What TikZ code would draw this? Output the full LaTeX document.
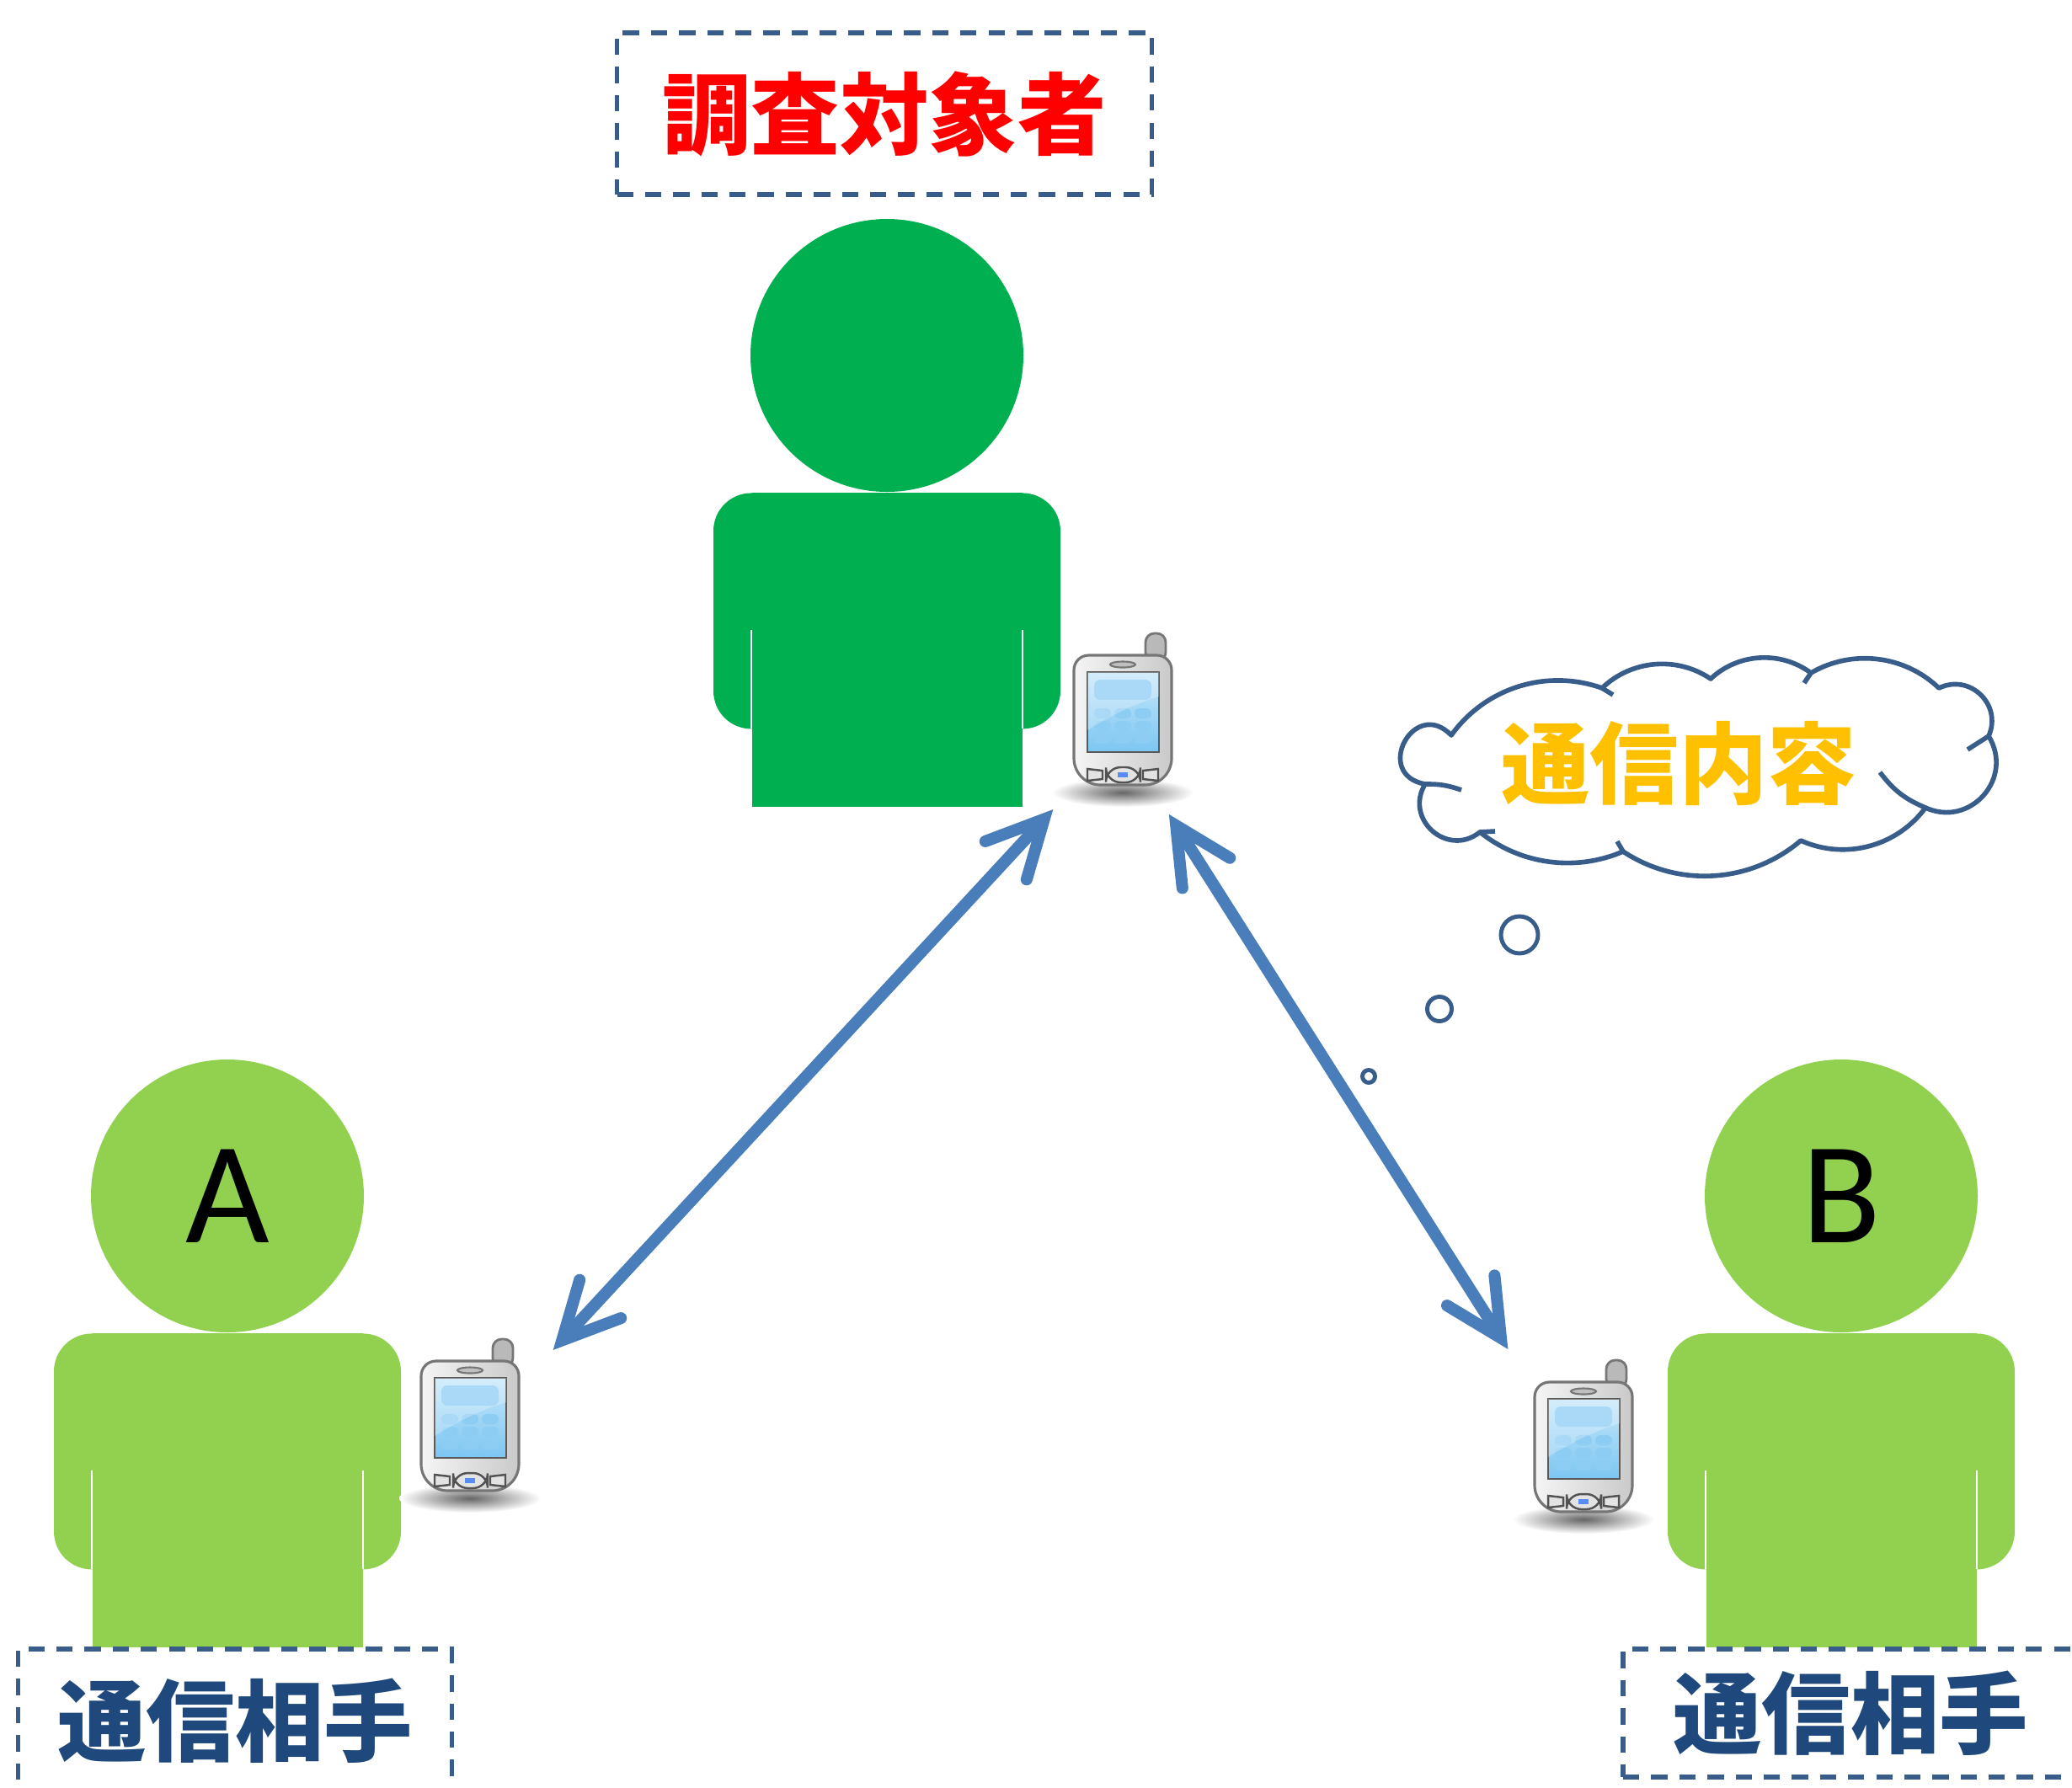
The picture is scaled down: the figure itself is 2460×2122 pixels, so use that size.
\documentclass[tikz,border=0pt]{standalone}
\usepackage{fontspec}
\newfontfamily\jpfont{Noto Sans CJK JP}
\newfontfamily\letterfont{Carlito}
\usetikzlibrary{positioning, arrows.meta, calc}
\definecolor{boss}{HTML}{00B050}
\definecolor{friend}{HTML}{92D050}
\definecolor{frameblue}{HTML}{385D8A}
\definecolor{namenavy}{HTML}{1F497D}
\definecolor{linkblue}{HTML}{4A7EBB}
\definecolor{talkgold}{HTML}{FFC000}
\definecolor{phoneline}{HTML}{767676}
\definecolor{screenhi}{HTML}{C6E7FA}
\definecolor{screenlo}{HTML}{7CC6F2}
\definecolor{keyblue}{HTML}{8DCDF3}

\begin{document}
\begin{tikzpicture}[x=0.1mm, y=-0.1mm,
  head/.style={circle, fill=#1, inner sep=0pt, minimum size=32.4mm, font=\letterfont\fontsize{49}{50}\selectfont},
  arms/.style={fill=#1, rounded corners=4.5mm, inner sep=0pt, minimum width=41.2mm, minimum height=28mm},
  torso/.style={fill=#1, inner sep=0pt, minimum width=32.1mm, minimum height=37.3mm},
  seam/.style={white, line width=0.6pt},
  namebox/.style={draw=frameblue, line width=1.6pt, dash pattern=on 5.5pt off 4pt, inner sep=0pt, font=\jpfont\bfseries\fontsize{30}{36}\selectfont},
  link/.style={draw=linkblue, line width=4pt, arrows={Straight Barb[length=19pt, width=19pt, line cap=round]-Straight Barb[length=19pt, width=19pt, line cap=round]}},
  cloudline/.style={draw=frameblue, line width=1.6pt, line join=round},
  bubble/.style={circle, draw=frameblue, line width=1.4pt, inner sep=0pt, minimum size=#1},
  phonekey/.style={draw=gray!65!black, fill=gray!22, line width=0.7pt},
  phone/.pic={
    \shade[inner color=black!60, outer color=white] (0,86) ellipse (84 and 17);
    \draw[draw=phoneline, fill=gray!55, line width=0.8pt, rounded corners=3pt] (27,-70) rectangle (51,-103);
    \draw[draw=phoneline, line width=0.9pt, left color=gray!8, right color=gray!42]
      (-58,0) [rounded corners=5pt] -- (-58,-77) -- (58,-77) -- (58,0) [rounded corners=9pt] -- (58,77) -- (-58,77) -- cycle;
    \draw[draw=phoneline, fill=gray!50, line width=0.6pt] (0,-66) ellipse (15 and 3.5);
    \draw[draw=gray!70!black, line width=0.8pt, top color=screenhi, bottom color=screenlo] (-42,-57) rectangle (43,38);
    \fill[keyblue, rounded corners=2pt] (-34,-48) rectangle (34,-24);
    \foreach \kx in {-24,0,24}
      \foreach \ky in {-8,7,22}
        \fill[keyblue, rounded corners=1.5pt] (\kx-10,\ky-6) rectangle (\kx+10,\ky+6);
    \fill[white, opacity=0.25] (-42,-57) -- (43,-57) -- (43,-28) .. controls (10,-18) and (-20,-2) .. (-42,12) -- cycle;
    \draw[phonekey] (-42,58) -- (-24,60) -- (-24,70) -- (-42,72) -- cycle;
    \draw[phonekey, rounded corners=5pt] (-20,56) rectangle (21,74);
    \fill[screenlo!70!blue] (-6,62) rectangle (6,68);
    \draw[phonekey] (42,58) -- (24,60) -- (24,70) -- (42,72) -- cycle;
  }]
  \useasboundingbox (0,0) rectangle (2460,2122);
  \clip (0,0) rectangle (2460,2122);

  % the person under investigation
  \node[head=boss] (headM) at (1053,422) {};
  \node[arms=boss, below=0pt of headM] (armsM) {};
  \node[torso=boss, below=0pt of headM] (torsoM) {};
  \draw[seam] ($(torsoM.north west)+(0,163)$) -- ($(torsoM.north west)+(0,280)$);
  \draw[seam] ($(torsoM.north east)+(0,163)$) -- ($(torsoM.north east)+(0,280)$);

  % partner A
  \node[head=friend] (headA) at (270,1420) {A};
  \node[arms=friend, below=0pt of headA] (armsA) {};
  \node[torso=friend, below=0pt of headA] (torsoA) {};
  \draw[seam] ($(torsoA.north west)+(0,163)$) -- ($(torsoA.north west)+(0,280)$);
  \draw[seam] ($(torsoA.north east)+(0,163)$) -- ($(torsoA.north east)+(0,280)$);

  % partner B
  \node[head=friend] (headB) at (2186,1420) {B};
  \node[arms=friend, below=0pt of headB] (armsB) {};
  \node[torso=friend, below=0pt of headB] (torsoB) {};
  \draw[seam] ($(torsoB.north west)+(0,163)$) -- ($(torsoB.north west)+(0,280)$);
  \draw[seam] ($(torsoB.north east)+(0,163)$) -- ($(torsoB.north east)+(0,280)$);

  % handsets
  \coordinate (phM) at (1333,855);
  \coordinate (phA) at (558,1693);
  \coordinate (phB) at (1880,1718);
  \pic at (phM) {phone};
  \pic at (phA) {phone};
  \pic at (phB) {phone};

  \draw[link, shorten <=38pt, shorten >=38pt] ([shift={(8,8)}]phA) -- ([shift={(8,8)}]phM);
  \draw[link, shorten <=35pt, shorten >=41.8pt] ([shift={(-11,8)}]phM) -- ([shift={(-11,8)}]phB);

  % labels
  \node[namebox, text=red, minimum width=63.5mm, minimum height=19.2mm] (target) at (1050,135) {調査対象者};
  \node[namebox, text=namenavy, minimum width=51.5mm, minimum height=17mm] (nameA) at (279,2043) {通信相手};
  \node[namebox, text=namenavy, minimum width=54mm, minimum height=15.2mm] (nameB) at (2197,2034) {通信相手};

  % what is being said
  \draw[cloudline] (1723,873)
    to[bend left=37, looseness=0.95] (1902,817)
    to[bend left=39, looseness=0.96] (2031,806)
    to[bend left=40, looseness=0.96] (2150,799)
    to[bend left=37, looseness=0.95] (2302,817)
    to[bend left=70, looseness=1.27] (2361,874)
    to[bend left=73, looseness=1.32] (2286,959)
    to[bend left=39, looseness=0.96] (2138,998)
    to[bend left=37, looseness=0.95] (1927,1011)
    to[bend left=31, looseness=0.92] (1757,988)
    to[bend left=80, looseness=1.45] (1692,931)
    to[bend left=108, looseness=2.47] (1723,873) -- cycle;
  \draw[cloudline] (1902,817) -- (1915,825);
  \draw[cloudline] (2150,799) -- (2142,811);
  \draw[cloudline] (2361,874) -- (2336,890);
  \draw[cloudline] (2286,959) to[bend left=15] (2232,917);
  \draw[cloudline] (1927,1011) -- (1920,999);
  \draw[cloudline] (1757,988) -- (1775,987);
  \draw[cloudline] (1692,931) to[bend left=10] (1735,938);
  \node[text=talkgold, font=\jpfont\bfseries\fontsize{30}{36}\selectfont] (talk) at (1993,907) {通信内容};
  \node[bubble=4.4mm] (bub1) at (1804,1110) {};
  \node[bubble=2.9mm] (bub2) at (1709,1198) {};
  \node[bubble=1.5mm] (bub3) at (1625,1278) {};
\end{tikzpicture}
\end{document}
